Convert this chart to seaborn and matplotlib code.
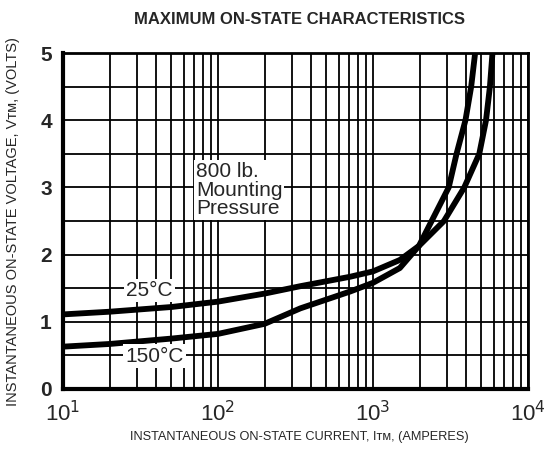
import numpy as np
import pandas as pd
import matplotlib
matplotlib.use("Agg")
import matplotlib.pyplot as plt
import seaborn as sns
from matplotlib.ticker import LogLocator, FixedLocator, NullFormatter

# Data
current_25 = [10, 20, 50, 100, 200, 340, 711, 1000, 1490, 1980, 2870, 3880, 4850, 5360, 5680, 5900]
voltage_25 = [1.11, 1.15, 1.22, 1.30, 1.42, 1.53, 1.67, 1.75, 1.92, 2.13, 2.50, 3.00, 3.50, 4.00, 4.50, 5.00]
current_150 = [10, 20, 50, 100, 200, 340, 711, 1000, 1490, 1980, 2390, 3080, 3460, 3950, 4300, 4560]
voltage_150 = [0.63, 0.67, 0.75, 0.82, 0.97, 1.20, 1.45, 1.58, 1.80, 2.13, 2.50, 3.00, 3.50, 4.00, 4.50, 5.00]
series_names = ["25°C", "150°C"]
x_ticks = [10, 100, 1000, 10000]
x_tick_labels = ["10$^1$", "10$^2$", "10$^3$", "10$^4$"]
y_ticks = [0, 1, 2, 3, 4, 5]

df = pd.concat([
    pd.DataFrame({"I": current_25, "V": voltage_25, "T": series_names[0]}),
    pd.DataFrame({"I": current_150, "V": voltage_150, "T": series_names[1]}),
])

sns.set_style("white")
plt.rcParams["font.family"] = ["Liberation Sans", "DejaVu Sans"]

fig = plt.figure(figsize=(5.5, 4.53), dpi=100)
ax = fig.add_axes([0.1145, 0.1413, 0.8455, 0.7417])

ax.set_xscale("log")
ax.set_xlim(10, 10000)
ax.set_ylim(0, 5)

# grid
ax.xaxis.set_major_locator(FixedLocator(x_ticks))
ax.xaxis.set_minor_locator(LogLocator(base=10, subs=np.arange(2, 10)))
ax.xaxis.set_minor_formatter(NullFormatter())
ax.yaxis.set_major_locator(FixedLocator(y_ticks))
ax.yaxis.set_minor_locator(FixedLocator(np.arange(0.5, 5, 1.0)))
ax.grid(True, which="both", color="black", linewidth=1.3)
ax.set_axisbelow(True)

sns.lineplot(data=df, x="I", y="V", hue="T", palette=["black", "black"],
             linewidth=4.2, legend=False, ax=ax, sort=False, estimator=None,
             solid_joinstyle="round", solid_capstyle="butt")
ax.set_xlabel("")
ax.set_ylabel("")

ax.set_xticks(x_ticks)
ax.set_xticklabels(x_tick_labels, fontsize=16)
ax.set_yticks(y_ticks)
ax.set_yticklabels([str(v) for v in y_ticks], fontsize=15, fontweight="bold")
ax.tick_params(axis="x", which="both", length=0, pad=9)
ax.tick_params(axis="y", which="both", length=0, pad=8)

for s in ax.spines.values():
    s.set_visible(True)
    s.set_color("black")
ax.spines["left"].set_linewidth(3)
ax.spines["bottom"].set_linewidth(3)
ax.spines["top"].set_linewidth(2)
ax.spines["right"].set_linewidth(2)

box = dict(facecolor="white", edgecolor="none", pad=1.5)
ax.text(36, 1.47, "25°C", fontsize=15, ha="center", va="center", bbox=box)
ax.text(39, 0.49, "150°C", fontsize=15, ha="center", va="center", bbox=box)
ax.text(72, 2.96, "800 lb.\nMounting\nPressure", fontsize=15, ha="left",
        va="center", linespacing=0.95, bbox=box)

fig.text(0.545, 0.958, "MAXIMUM ON-STATE CHARACTERISTICS", ha="center",
         va="center", fontsize=12, fontweight="bold")
fig.text(0.545, 0.035, "INSTANTANEOUS ON-STATE CURRENT, Iᴛᴍ, (AMPERES)",
         ha="center", va="center", fontsize=9.2)
fig.text(0.024, 0.51, "INSTANTANEOUS ON-STATE VOLTAGE, Vᴛᴍ, (VOLTS)",
         ha="center", va="center", rotation=90, fontsize=10.5)

fig.savefig("out.png", dpi=100)
